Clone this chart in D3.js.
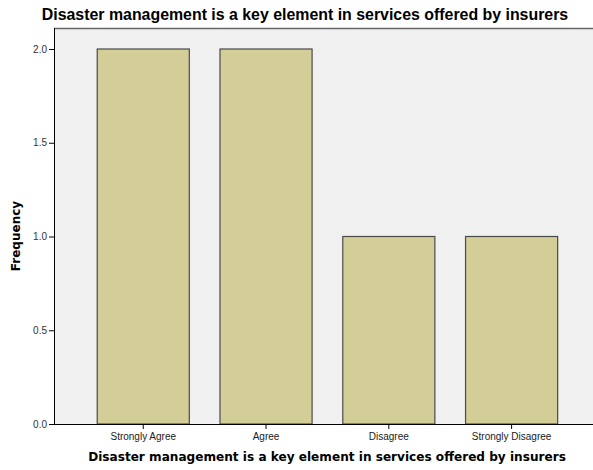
<!DOCTYPE html>
<html>
<head>
<meta charset="utf-8">
<script src="https://cdn.jsdelivr.net/npm/d3@7"></script>
<style>
  body { margin: 0; background: #fff; }
  text { font-family: "Liberation Sans", Arial, sans-serif; }
</style>
</head>
<body>
<script>
var w = 593;
var h = 470;

var categories = ["Strongly Agree", "Agree", "Disagree", "Strongly Disagree"];
var frequency = [2, 2, 1, 1];
var yTicks = [0, 0.5, 1.0, 1.5, 2.0];

var pLeft = 54, pRight = 593, pTop = 28, pBottom = 424;

var svg = d3.select("body")
  .append("svg")
  .attr("width", w)
  .attr("height", h);

var x = d3.scaleBand()
  .domain(categories)
  .range([pLeft, pRight])
  .paddingInner(0.25)
  .paddingOuter(0.32)
  .align(0.55);

var y = d3.scaleLinear()
  .domain([0, 2])
  .range([pBottom, 49]);

// plot background
svg.append("rect")
  .attr("x", pLeft)
  .attr("y", pTop)
  .attr("width", pRight - pLeft)
  .attr("height", pBottom - pTop)
  .attr("fill", "#f0f0f0");

svg.append("line")
  .attr("x1", pLeft).attr("x2", pRight)
  .attr("y1", pTop + 0.5).attr("y2", pTop + 0.5)
  .attr("stroke", "#666")
  .attr("stroke-width", 1.5);

// bars
svg.selectAll("rect.bar")
  .data(frequency)
  .enter()
  .append("rect")
  .attr("class", "bar")
  .attr("x", function(d, i) { return x(categories[i]); })
  .attr("y", function(d) { return y(d); })
  .attr("width", x.bandwidth())
  .attr("height", function(d) { return y(0) - y(d); })
  .attr("fill", "#d3ce97")
  .attr("stroke", "#4a4a4a")
  .attr("stroke-width", 1.2);

// y axis
var yAxis = svg.append("g")
  .attr("transform", "translate(" + pLeft + ",0)")
  .call(d3.axisLeft(y).tickValues(yTicks).tickFormat(d3.format(".1f")).tickSize(5).tickPadding(2));
yAxis.select(".domain").attr("stroke", "#000").attr("d", "M0.5," + pTop + "V" + pBottom);
yAxis.selectAll("text").attr("font-size", 10).attr("fill", "#333").attr("font-family", "Liberation Sans, Arial, sans-serif");

// x axis
var xAxis = svg.append("g")
  .attr("transform", "translate(0," + pBottom + ")")
  .call(d3.axisBottom(x).tickSize(5).tickPadding(4));
xAxis.select(".domain").attr("stroke", "#000").attr("d", "M" + pLeft + ",0.5H" + pRight);
xAxis.selectAll("text").attr("font-size", 10).attr("fill", "#222").attr("font-family", "Liberation Sans, Arial, sans-serif");

// titles
svg.append("text")
  .attr("x", 305)
  .attr("y", 20)
  .attr("text-anchor", "middle")
  .attr("font-size", 15.9)
  .attr("font-weight", "bold")
  .text("Disaster management is a key element in services offered by insurers");

svg.append("text")
  .attr("x", 327)
  .attr("y", 461)
  .attr("text-anchor", "middle")
  .attr("font-size", 12.1)
  .attr("font-weight", "bold")
  .style("font-family", "DejaVu Sans, sans-serif")
  .text("Disaster management is a key element in services offered by insurers");

svg.append("text")
  .attr("transform", "translate(20,236) rotate(-90)")
  .attr("text-anchor", "middle")
  .attr("font-size", 12)
  .attr("font-weight", "bold")
  .style("font-family", "DejaVu Sans, sans-serif")
  .text("Frequency");
</script>
</body>
</html>
